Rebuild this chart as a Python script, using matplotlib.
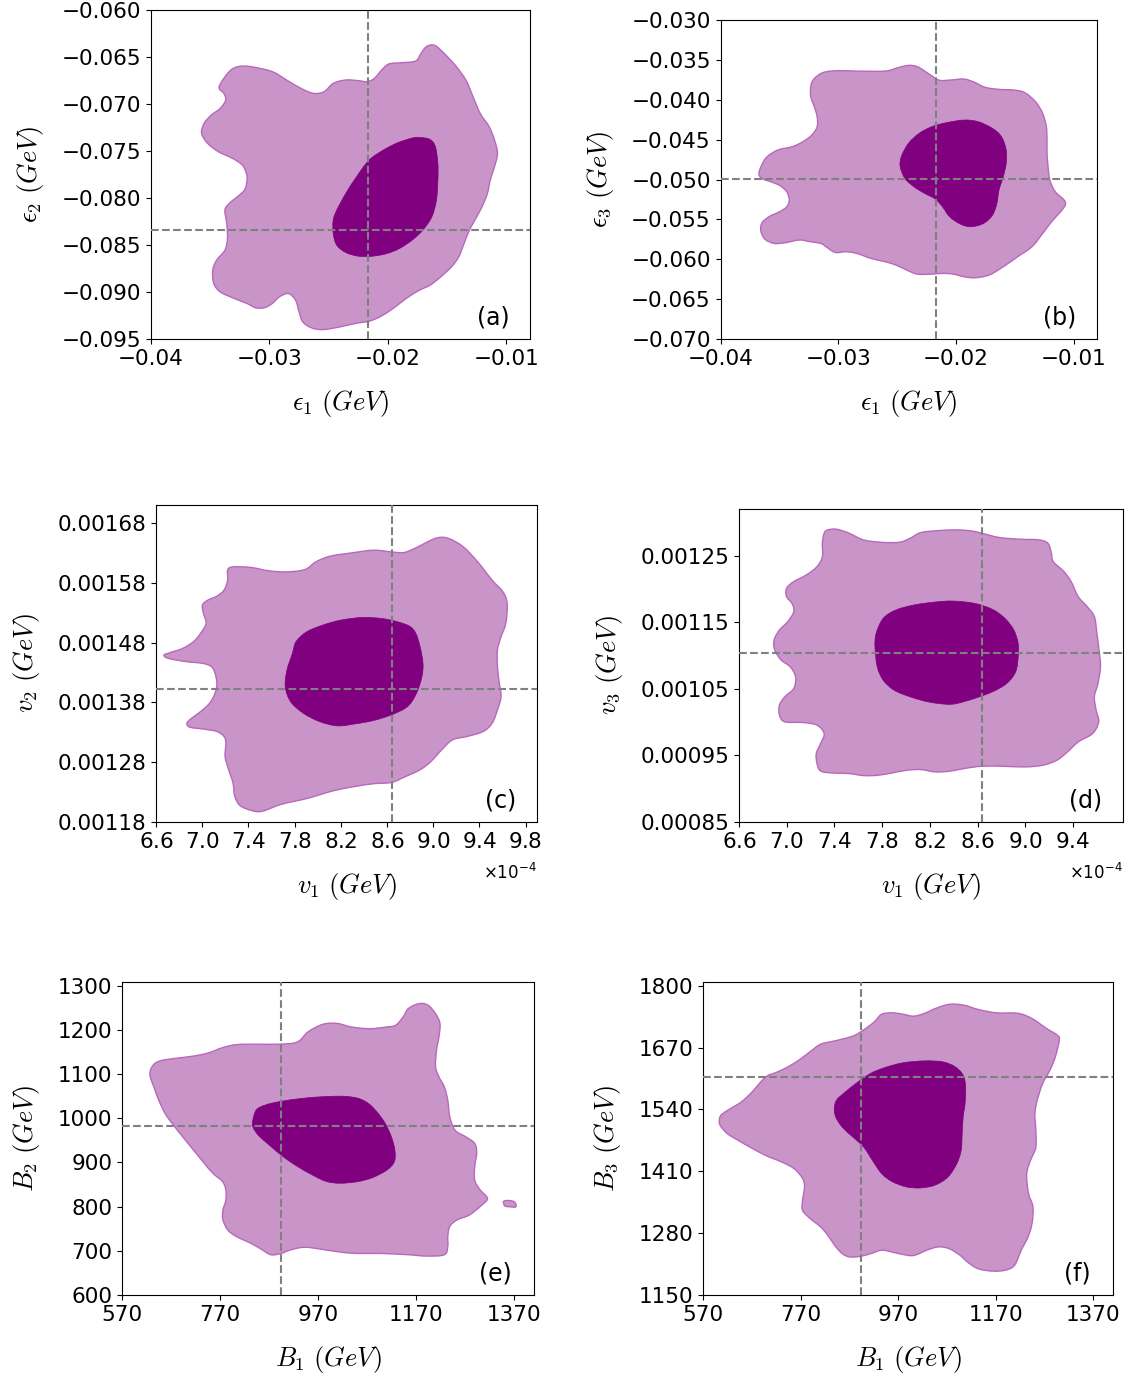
import numpy as np
import matplotlib
matplotlib.use("Agg")
from matplotlib import pyplot as plt
from matplotlib.path import Path
from matplotlib.patches import PathPatch
from matplotlib.ticker import FormatStrFormatter, ScalarFormatter

# ---- panel (a): eps1 vs eps2 ----
a_outer_x = [-0.03425, -0.0334, -0.03264, -0.03158, -0.02977, -0.02856, -0.02734, -0.02628, -0.02538, -0.02462,
             -0.02356, -0.0225, -0.02174, -0.02114, -0.02053, -0.01993, -0.01887, -0.01766, -0.0172, -0.01675,
             -0.01614, -0.01554, -0.01433, -0.01342, -0.01281, -0.01221, -0.01145, -0.011, -0.01075, -0.011,
             -0.01136, -0.0116, -0.01206, -0.01266, -0.01312, -0.01357, -0.01402, -0.01463, -0.01554, -0.01645,
             -0.01735, -0.01826, -0.01902, -0.01978, -0.02068, -0.02159, -0.0225, -0.02341, -0.02432, -0.02553,
             -0.02644, -0.02719, -0.0275, -0.0278, -0.0284, -0.02916, -0.02977, -0.03037, -0.03113, -0.03189,
             -0.0331, -0.03416, -0.0347, -0.03479, -0.03446, -0.03376, -0.03355, -0.03361, -0.03376, -0.0334,
             -0.03255, -0.03204, -0.03189, -0.03219, -0.03264, -0.0334, -0.03431, -0.03522, -0.03573, -0.03552,
             -0.03491, -0.03416, -0.0337, -0.03385]
a_outer_y = [-0.06816, -0.06656, -0.06603, -0.06603, -0.06656, -0.06745, -0.06834, -0.06887, -0.06869, -0.06781,
             -0.06745, -0.06752, -0.06763, -0.06727, -0.06639, -0.06575, -0.06561, -0.06543, -0.06461, -0.0639,
             -0.06373, -0.06426, -0.06586, -0.06745, -0.06923, -0.071, -0.07242, -0.07384, -0.07526, -0.07668,
             -0.0781, -0.07952, -0.08094, -0.08236, -0.08342, -0.08484, -0.08626, -0.08732, -0.08839, -0.08928,
             -0.08981, -0.09052, -0.09123, -0.09194, -0.09265, -0.09311, -0.09329, -0.09353, -0.09378, -0.094,
             -0.09382, -0.09318, -0.09212, -0.09087, -0.09016, -0.09052, -0.09123, -0.09165, -0.09169, -0.09123,
             -0.09062, -0.08999, -0.0891, -0.08768, -0.08661, -0.08555, -0.08431, -0.08271, -0.08129, -0.08058,
             -0.0797, -0.07899, -0.07774, -0.07668, -0.07615, -0.07561, -0.07508, -0.07419, -0.07313, -0.07207,
             -0.07118, -0.07047, -0.06958, -0.06887]
a_inner_x = [-0.01735, -0.01645, -0.01599, -0.01578, -0.01578, -0.0159, -0.01629, -0.01705, -0.01796, -0.01902,
             -0.02008, -0.02129, -0.0225, -0.02356, -0.02432, -0.02462, -0.02462, -0.02432, -0.02356, -0.02265,
             -0.02159, -0.02038, -0.01917, -0.01796]
a_inner_y = [-0.07356, -0.07377, -0.07455, -0.07632, -0.0781, -0.08023, -0.082, -0.08342, -0.08449, -0.08537,
             -0.08591, -0.08619, -0.08619, -0.0858, -0.08502, -0.08378, -0.08236, -0.08129, -0.07952, -0.07774,
             -0.07597, -0.0749, -0.07412, -0.07363]

# ---- panel (b): eps1 vs eps3 ----
b_outer_x = [-0.03233, -0.03209, -0.03133, -0.03011, -0.02844, -0.02601, -0.02494, -0.02403, -0.02327, -0.02235,
             -0.02144, -0.02053, -0.01931, -0.0184, -0.01749, -0.01627, -0.01505, -0.01414, -0.01323, -0.01262,
             -0.01231, -0.01225, -0.01225, -0.01216, -0.01201, -0.01155, -0.01079, -0.0107, -0.0111, -0.01186,
             -0.01262, -0.01353, -0.01475, -0.01597, -0.01718, -0.0184, -0.01931, -0.02023, -0.02114, -0.02205,
             -0.02327, -0.02418, -0.02509, -0.02601, -0.02722, -0.02844, -0.02935, -0.03026, -0.03103, -0.03148,
             -0.03239, -0.03331, -0.03452, -0.03544, -0.0362, -0.03656, -0.0365, -0.03589, -0.03498, -0.03437,
             -0.03416, -0.03437, -0.03498, -0.03574, -0.0365, -0.03674, -0.0365, -0.03604, -0.03513, -0.03392,
             -0.033, -0.03224, -0.03179, -0.03179, -0.03203, -0.03233]
b_outer_y = [-0.03836, -0.03744, -0.03661, -0.03635, -0.0364, -0.0364, -0.03598, -0.03569, -0.03585, -0.03669,
             -0.03753, -0.03753, -0.0374, -0.03782, -0.03845, -0.0387, -0.03878, -0.03911, -0.04024, -0.04171,
             -0.04338, -0.04505, -0.04672, -0.0484, -0.05007, -0.05153, -0.05258, -0.0532, -0.05404, -0.05529,
             -0.05676, -0.05843, -0.05968, -0.06094, -0.06198, -0.06232, -0.06219, -0.06186, -0.06177, -0.06186,
             -0.06186, -0.06135, -0.06073, -0.06031, -0.05989, -0.05926, -0.05906, -0.05914, -0.05843, -0.05801,
             -0.0578, -0.05759, -0.05793, -0.05801, -0.05751, -0.05655, -0.0555, -0.05467, -0.05404, -0.05341,
             -0.05258, -0.05153, -0.05074, -0.05028, -0.04986, -0.04923, -0.04819, -0.04714, -0.0463, -0.04589,
             -0.04526, -0.04442, -0.04338, -0.04212, -0.04087, -0.03962]
b_inner_x = [-0.02083, -0.01931, -0.0181, -0.01688, -0.01612, -0.01572, -0.01572, -0.01597, -0.01633, -0.01651,
             -0.01688, -0.01764, -0.0187, -0.01962, -0.02053, -0.02114, -0.02175, -0.02266, -0.02357, -0.02433,
             -0.02473, -0.02464, -0.02403, -0.02312, -0.02205]
b_inner_y = [-0.04288, -0.04254, -0.04275, -0.04359, -0.04463, -0.0463, -0.04798, -0.04965, -0.05132, -0.05299,
             -0.05446, -0.0555, -0.05592, -0.05559, -0.05467, -0.05341, -0.05245, -0.05174, -0.0509, -0.04986,
             -0.0484, -0.04714, -0.04547, -0.04421, -0.04338]

# ---- panel (c): v1 vs v2 (values in units of 1e-4 GeV) ----
c_outer_x = [6.669, 6.722, 6.831, 6.924, 6.986, 7.033, 7.011, 7.002, 7.049, 7.127, 7.189, 7.220, 7.220, 7.267,
             7.423, 7.579, 7.734, 7.890, 7.984, 8.108, 8.295, 8.482, 8.638, 8.747, 8.856, 8.950, 9.043, 9.137,
             9.261, 9.386, 9.511, 9.604, 9.641, 9.629, 9.588, 9.557, 9.557, 9.573, 9.588, 9.557, 9.511, 9.433,
             9.292, 9.168, 9.074, 8.981, 8.887, 8.763, 8.638, 8.482, 8.326, 8.171, 8.046, 7.921, 7.797, 7.672,
             7.516, 7.423, 7.329, 7.282, 7.267, 7.229, 7.198, 7.205, 7.189, 7.127, 7.018, 6.893, 6.868, 6.908,
             6.986, 7.064, 7.111, 7.127, 7.111, 7.080, 7.002, 6.862, 6.706]
c_outer_y = [14.592, 14.631, 14.703, 14.814, 14.954, 15.12, 15.287, 15.426, 15.51, 15.576, 15.677, 15.843, 16.01,
             16.066, 16.055, 15.999, 15.982, 16.021, 16.149, 16.244, 16.299, 16.344, 16.316, 16.305, 16.388,
             16.483, 16.555, 16.539, 16.4, 16.149, 15.843, 15.649, 15.454, 15.12, 14.898, 14.675, 14.397, 14.119,
             13.897, 13.674, 13.452, 13.313, 13.229, 13.174, 13.007, 12.812, 12.673, 12.562, 12.462, 12.44,
             12.395, 12.339, 12.273, 12.2, 12.145, 12.089, 11.978, 11.995, 12.073, 12.228, 12.451, 12.673, 12.896,
             13.118, 13.229, 13.313, 13.352, 13.385, 13.452, 13.535, 13.646, 13.786, 13.952, 14.119, 14.286,
             14.397, 14.453, 14.481, 14.536]
c_inner_x = [7.906, 8.046, 8.202, 8.389, 8.545, 8.669, 8.794, 8.850, 8.887, 8.912, 8.903, 8.856, 8.778, 8.638,
             8.482, 8.326, 8.171, 8.015, 7.875, 7.765, 7.719, 7.734, 7.781, 7.812]
c_inner_y = [14.981, 15.093, 15.176, 15.22, 15.204, 15.159, 15.076, 14.954, 14.731, 14.453, 14.23, 13.952, 13.73,
             13.591, 13.496, 13.441, 13.407, 13.48, 13.619, 13.813, 14.064, 14.342, 14.62, 14.814]

# ---- panel (d): v1 vs v3 (values in units of 1e-4 GeV) ----
d_outer_x = [7.314, 7.344, 7.419, 7.524, 7.644, 7.794, 7.944, 8.035, 8.125, 8.275, 8.425, 8.545, 8.635, 8.785,
             8.965, 9.115, 9.19, 9.22, 9.235, 9.325, 9.385, 9.445, 9.52, 9.58, 9.601, 9.619, 9.631, 9.61, 9.58,
             9.595, 9.616, 9.565, 9.445, 9.355, 9.265, 9.145, 8.995, 8.815, 8.635, 8.485, 8.365, 8.245, 8.125,
             8.005, 7.885, 7.764, 7.644, 7.524, 7.374, 7.284, 7.254, 7.248, 7.284, 7.314, 7.254, 7.134, 6.984,
             6.939, 6.939, 6.984, 7.059, 7.074, 7.029, 6.954, 6.9, 6.894, 6.939, 7.008, 7.059, 7.044, 6.999,
             6.999, 7.059, 7.164, 7.254, 7.299, 7.299]
d_outer_y = [12.836, 12.886, 12.896, 12.836, 12.736, 12.7, 12.7, 12.761, 12.846, 12.876, 12.886, 12.871, 12.836,
             12.771, 12.746, 12.736, 12.685, 12.535, 12.41, 12.259, 12.109, 11.883, 11.733, 11.583, 11.332,
             11.081, 10.831, 10.58, 10.38, 10.179, 10.004, 9.828, 9.703, 9.553, 9.427, 9.352, 9.327, 9.337,
             9.337, 9.302, 9.262, 9.252, 9.287, 9.277, 9.237, 9.202, 9.197, 9.227, 9.237, 9.267, 9.377, 9.528,
             9.678, 9.828, 9.954, 9.994, 10.004, 10.104, 10.254, 10.38, 10.505, 10.68, 10.831, 10.931, 11.081,
             11.232, 11.382, 11.508, 11.658, 11.783, 11.883, 12.009, 12.109, 12.209, 12.335, 12.485, 12.685]
d_inner_x = [7.74, 7.75, 7.809, 7.915, 8.065, 8.245, 8.395, 8.575, 8.725, 8.83, 8.905, 8.941, 8.941, 8.92, 8.845,
             8.725, 8.575, 8.425, 8.335, 8.185, 8.035, 7.9, 7.809, 7.759]
d_inner_y = [11.132, 11.332, 11.558, 11.683, 11.758, 11.803, 11.818, 11.783, 11.693, 11.558, 11.382, 11.182,
             10.981, 10.756, 10.58, 10.455, 10.355, 10.279, 10.269, 10.304, 10.38, 10.48, 10.63, 10.831]

# ---- panel (e): B1 vs B2 ----
e_outer_x = [627, 632, 647, 680, 716, 746, 775, 804, 848, 892, 928, 950, 980, 1009, 1038, 1075, 1111, 1129, 1144,
             1155, 1177, 1195, 1210, 1219, 1217, 1212, 1210, 1217, 1228, 1235, 1239, 1250, 1272, 1290, 1294,
             1290, 1290, 1301, 1316, 1305, 1279, 1254, 1239, 1235, 1235, 1228, 1192, 1155, 1097, 1053, 1023,
             980, 943, 914, 895, 874, 855, 833, 804, 786, 776, 776, 782, 782, 775, 756, 738, 716, 694, 672, 658,
             645, 636]
e_outer_y = [1098, 1118, 1130, 1136, 1141, 1148, 1160, 1167, 1168, 1168, 1173, 1196, 1213, 1215, 1207, 1203, 1207,
             1211, 1230, 1249, 1260, 1256, 1237, 1215, 1185, 1154, 1117, 1094, 1071, 1041, 1004, 973, 958, 943,
             921, 891, 860, 838, 819, 804, 781, 770, 755, 732, 710, 691, 688, 691, 694, 694, 696, 703, 708, 702,
             694, 691, 703, 717, 732, 747, 770, 792, 815, 838, 857, 875, 898, 928, 958, 989, 1011, 1041, 1068]
e_island_x = [1349, 1356, 1369, 1374, 1373, 1360, 1352, 1349]
e_island_y = [812, 814, 812, 806, 799, 800, 801, 807]
e_inner_x = [837, 844, 862, 892, 936, 980, 1023, 1053, 1075, 1093, 1107, 1120, 1127, 1126, 1111, 1082, 1053, 1016,
             987, 958, 928, 899, 870, 848, 837]
e_inner_y = [996, 1019, 1030, 1038, 1045, 1049, 1050, 1045, 1032, 1011, 989, 958, 928, 902, 883, 866, 857, 853,
             857, 872, 891, 913, 940, 962, 981]

# ---- panel (f): B1 vs B3 ----
f_outer_x = [604, 609, 627, 649, 671, 686, 701, 723, 745, 767, 789, 811, 840, 877, 899, 921, 936, 958, 980, 1002,
             1024, 1046, 1075, 1105, 1134, 1171, 1215, 1244, 1274, 1296, 1300, 1292, 1281, 1266, 1255, 1250,
             1252, 1252, 1244, 1236, 1233, 1237, 1246, 1244, 1236, 1222, 1208, 1189, 1164, 1134, 1112, 1097,
             1075, 1053, 1031, 1002, 980, 958, 936, 914, 892, 870, 855, 840, 826, 811, 789, 774, 774, 778, 774,
             756, 730, 701, 671, 642, 620, 605]
f_outer_y = [1521, 1530, 1542, 1556, 1577, 1595, 1610, 1619, 1630, 1644, 1661, 1677, 1684, 1694, 1707, 1724, 1740,
             1743, 1740, 1736, 1742, 1752, 1761, 1759, 1750, 1743, 1742, 1731, 1710, 1696, 1686, 1651, 1623,
             1595, 1560, 1531, 1496, 1461, 1440, 1419, 1398, 1363, 1335, 1300, 1272, 1244, 1212, 1202, 1200,
             1205, 1219, 1233, 1247, 1251, 1245, 1233, 1235, 1240, 1244, 1237, 1231, 1230, 1237, 1254, 1275,
             1293, 1311, 1328, 1349, 1377, 1395, 1416, 1430, 1442, 1458, 1475, 1489, 1507]
f_inner_x = [839, 844, 862, 884, 914, 943, 980, 1024, 1061, 1086, 1103, 1108, 1107, 1103, 1101, 1099, 1090, 1072,
             1046, 1017, 987, 958, 936, 917, 899, 877, 855, 842]
f_inner_y = [1542, 1560, 1577, 1595, 1616, 1628, 1638, 1642, 1640, 1630, 1612, 1588, 1553, 1524, 1489, 1454, 1426,
             1398, 1381, 1375, 1377, 1388, 1405, 1433, 1461, 1482, 1503, 1524]

# best-fit reference values (dashed lines)
eps1_ref = -0.0217
eps2_ref = -0.08342
eps3_ref = -0.04995
v1_ref = 8.64e-4
v2_ref = 1.4019e-3
v3_ref = 1.1036e-3
B1_ref = 894
B2_ref = 983
B3_ref = 1609

LIGHT = "#c994c7"
EDGE = "#b868bb"
DARK = "#800080"
TICK_SIZE = 15.5
LABEL_SIZE = 19
TAG_SIZE = 17

fig = plt.figure(figsize=(11.34, 13.82), dpi=100)


def smooth_region(xs, ys, **kw):
    """ Closed smooth outline through the traced contour points (Catmull-Rom as cubic Beziers) """
    pts = np.column_stack([xs, ys]).astype(float)
    n = len(pts)
    verts = [pts[0]]
    codes = [Path.MOVETO]
    for i in range(n):
        p0, p1, p2, p3 = pts[i - 1], pts[i], pts[(i + 1) % n], pts[(i + 2) % n]
        verts += [p1 + (p2 - p0) / 6.0, p2 - (p3 - p1) / 6.0, p2]
        codes += [Path.CURVE4] * 3
    verts.append(pts[0])
    codes.append(Path.CLOSEPOLY)
    return PathPatch(Path(verts, codes), **kw)


def draw_panel(ax, ox, oy, ix, iy, xref, yref, tag, extra=None):
    """ Draws one 2D credible region panel """
    ax.add_patch(smooth_region(ox, oy, fc=LIGHT, ec=EDGE, lw=1.0, zorder=1))
    if extra is not None:
        ax.add_patch(smooth_region(extra[0], extra[1], fc=LIGHT, ec=EDGE, lw=1.0, zorder=1))
    ax.add_patch(smooth_region(ix, iy, fc=DARK, ec=DARK, lw=0.5, zorder=2))
    ax.axvline(xref, color="grey", ls="--", lw=1.5, zorder=3)
    ax.axhline(yref, color="grey", ls="--", lw=1.5, zorder=3)
    ax.text(0.945, 0.03, tag, transform=ax.transAxes, ha="right", va="bottom", fontsize=TAG_SIZE)
    ax.tick_params(labelsize=TICK_SIZE)


def labels(ax, xl, yl):
    ax.set_xlabel(xl, fontsize=LABEL_SIZE, math_fontfamily="cm", labelpad=14)
    ax.set_ylabel(yl, fontsize=LABEL_SIZE, math_fontfamily="cm", labelpad=11)


def plain(ax):
    for axis in (ax.xaxis, ax.yaxis):
        fmt = ScalarFormatter(useOffset=False)
        fmt.set_scientific(False)
        axis.set_major_formatter(fmt)


def sci_x(ax):
    ax.ticklabel_format(axis="x", style="sci", scilimits=(-4, -4), useMathText=True)
    ax.xaxis.get_offset_text().set_fontsize(12)
    ax.xaxis.OFFSETTEXTPAD = 8


# (a)
ax = fig.add_axes([0.1332, 0.7547, 0.3342, 0.2381])
draw_panel(ax, a_outer_x, a_outer_y, a_inner_x, a_inner_y, eps1_ref, eps2_ref, "(a)")
ax.set_xlim(-0.04, -0.008)
ax.set_ylim(-0.095, -0.060)
ax.set_xticks([-0.04, -0.03, -0.02, -0.01])
ax.set_yticks(np.round(np.arange(-0.095, -0.0599, 0.005), 3))
plain(ax)
labels(ax, r"$\epsilon_1\ (GeV)$", r"$\epsilon_2\ (GeV)$")

# (b)
ax = fig.add_axes([0.6354, 0.7547, 0.3320, 0.2308])
draw_panel(ax, b_outer_x, b_outer_y, b_inner_x, b_inner_y, eps1_ref, eps3_ref, "(b)")
ax.set_xlim(-0.04, -0.008)
ax.set_ylim(-0.070, -0.030)
ax.set_xticks([-0.04, -0.03, -0.02, -0.01])
ax.set_yticks(np.round(np.arange(-0.070, -0.0299, 0.005), 3))
plain(ax)
labels(ax, r"$\epsilon_1\ (GeV)$", r"$\epsilon_3\ (GeV)$")

# (c)
ax = fig.add_axes([0.1376, 0.4052, 0.3360, 0.2294])
draw_panel(ax, np.array(c_outer_x) * 1e-4, np.array(c_outer_y) * 1e-4,
           np.array(c_inner_x) * 1e-4, np.array(c_inner_y) * 1e-4, v1_ref, v2_ref, "(c)")
ax.set_xlim(6.6e-4, 9.9e-4)
ax.set_ylim(0.00118, 0.00171)
ax.set_xticks(np.arange(6.6, 9.81, 0.4) * 1e-4)
ax.set_yticks(np.arange(11.8, 16.81, 1.0) * 1e-4)
ax.yaxis.set_major_formatter(FormatStrFormatter("%.5f"))
sci_x(ax)
labels(ax, r"$v_1\ (GeV)$", r"$v_2\ (GeV)$")

# (d)
ax = fig.add_axes([0.6517, 0.4052, 0.3386, 0.2265])
draw_panel(ax, np.array(d_outer_x) * 1e-4, np.array(d_outer_y) * 1e-4,
           np.array(d_inner_x) * 1e-4, np.array(d_inner_y) * 1e-4, v1_ref, v3_ref, "(d)")
ax.set_xlim(6.6e-4, 9.82e-4)
ax.set_ylim(0.00085, 0.00132)
ax.set_xticks(np.arange(6.6, 9.41, 0.4) * 1e-4)
ax.set_yticks(np.arange(8.5, 12.51, 1.0) * 1e-4)
ax.yaxis.set_major_formatter(FormatStrFormatter("%.5f"))
sci_x(ax)
labels(ax, r"$v_1\ (GeV)$", r"$v_3\ (GeV)$")

# (e)
ax = fig.add_axes([0.1076, 0.0630, 0.3633, 0.2265])
draw_panel(ax, e_outer_x, e_outer_y, e_inner_x, e_inner_y, B1_ref, B2_ref, "(e)",
           extra=(e_island_x, e_island_y))
ax.set_xlim(570, 1411)
ax.set_ylim(600, 1309)
ax.set_xticks(np.arange(570, 1371, 200))
ax.set_yticks(np.arange(600, 1301, 100))
labels(ax, r"$B_1\ (GeV)$", r"$B_2\ (GeV)$")

# (f)
ax = fig.add_axes([0.6199, 0.0630, 0.3616, 0.2265])
draw_panel(ax, f_outer_x, f_outer_y, f_inner_x, f_inner_y, B1_ref, B3_ref, "(f)")
ax.set_xlim(570, 1410)
ax.set_ylim(1150, 1808)
ax.set_xticks(np.arange(570, 1371, 200))
ax.set_yticks(np.arange(1150, 1801, 130))
labels(ax, r"$B_1\ (GeV)$", r"$B_3\ (GeV)$")

fig.savefig("out.png", dpi=100)
